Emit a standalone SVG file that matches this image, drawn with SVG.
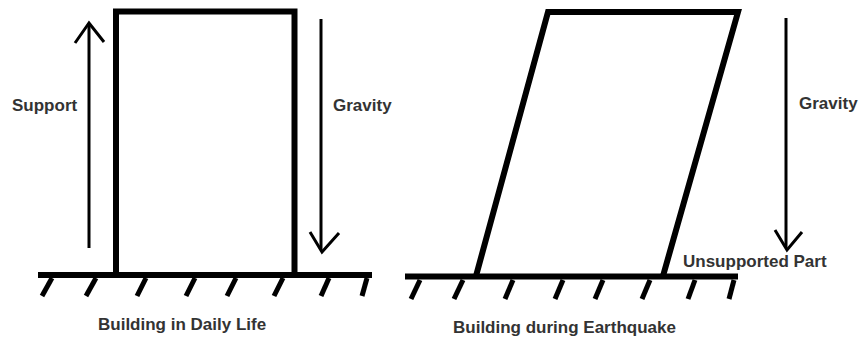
<svg xmlns="http://www.w3.org/2000/svg" width="859" height="342" viewBox="0 0 859 342">
<style>
.bld{fill:none;stroke:#000;stroke-width:6;stroke-linejoin:miter}
.gnd{stroke:#000;stroke-width:6}
.hat{stroke:#000;stroke-width:5}
.arr{fill:none;stroke:#000;stroke-width:3}
.lbl{font-family:"Liberation Sans",Arial,sans-serif;font-weight:bold;font-size:17px;fill:#333}
</style>
<rect width="859" height="342" fill="#fff"/>
<g id="building-daily">
<path class="bld" d="M116,274 V11.5 H294.5 V274"/>
</g>
<g id="ground-left">
<line class="gnd" x1="38" y1="275" x2="372" y2="275"/>
<g class="hat">
<line x1="52" y1="278" x2="42" y2="296"/>
<line x1="96" y1="278" x2="86" y2="296"/>
<line x1="146" y1="278" x2="137" y2="296"/>
<line x1="195" y1="278" x2="186" y2="296"/>
<line x1="236" y1="278" x2="227" y2="296"/>
<line x1="283" y1="278" x2="274" y2="296"/>
<line x1="329" y1="278" x2="321" y2="296"/>
<line x1="367" y1="278" x2="362" y2="296"/>
</g>
</g>
<g id="building-earthquake">
<path class="bld" d="M476,276 L548,12 H738 L663,276"/>
</g>
<g id="ground-right">
<line class="gnd" x1="405" y1="276.5" x2="738" y2="276.5"/>
<g class="hat">
<line x1="420" y1="280" x2="411" y2="299"/>
<line x1="463" y1="280" x2="454" y2="299"/>
<line x1="513" y1="280" x2="505" y2="299"/>
<line x1="563" y1="280" x2="555" y2="299"/>
<line x1="603" y1="280" x2="595" y2="299"/>
<line x1="650" y1="280" x2="642" y2="299"/>
<line x1="695" y1="280" x2="688" y2="299"/>
<line x1="734" y1="280" x2="729" y2="299"/>
</g>
</g>
<g id="connectors">
<g id="support-arrow">
<line class="arr" x1="89" y1="248" x2="89" y2="24"/>
<polyline class="arr" points="75,43 89,23 104,42"/>
</g>
<g id="gravity-left-arrow">
<line class="arr" x1="321" y1="19" x2="321" y2="250"/>
<polyline class="arr" points="310,232 322,252 339,233"/>
</g>
<g id="gravity-right-arrow">
<line class="arr" x1="786" y1="18" x2="786" y2="248"/>
<polyline class="arr" points="775,230 787,250 802,232"/>
</g>
</g>
<g id="labels">
<text class="lbl" x="12" y="111">Support</text>
<text class="lbl" x="333" y="111">Gravity</text>
<text class="lbl" x="799" y="109">Gravity</text>
<text class="lbl" x="683" y="267">Unsupported Part</text>
<text class="lbl" x="98" y="330">Building in Daily Life</text>
<text class="lbl" x="453" y="333">Building during Earthquake</text>
</g>
</svg>
